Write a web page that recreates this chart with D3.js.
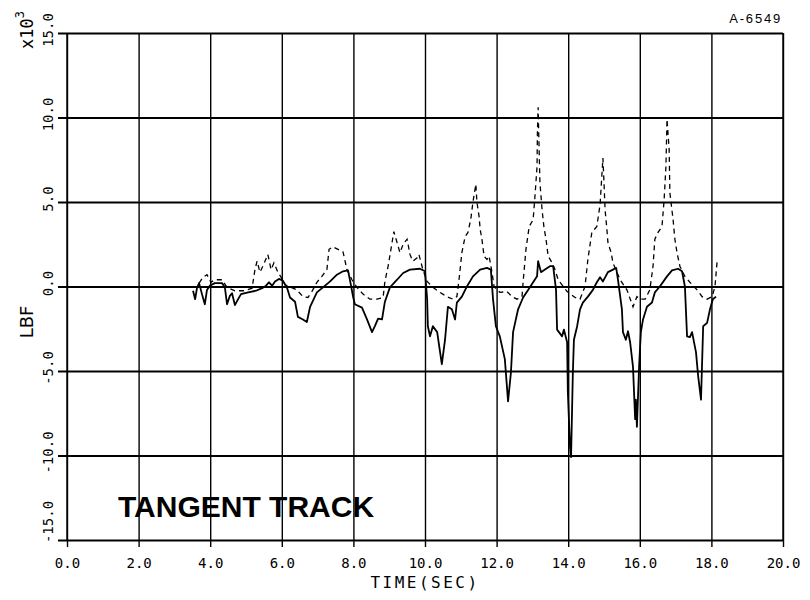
<!DOCTYPE html>
<html><head><meta charset="utf-8">
<script src="https://cdn.jsdelivr.net/npm/d3@7/dist/d3.min.js"></script>
<style>
html,body{margin:0;padding:0;background:#fff;}
svg{display:block;}
</style>
</head><body>
<script>
// ---- data (LBF x 10^3 versus TIME in seconds) ----
const xTickValues = [0, 2, 4, 6, 8, 10, 12, 14, 16, 18, 20];
const xTickLabels = ["0.0","2.0","4.0","6.0","8.0","10.0","12.0","14.0","16.0","18.0","20.0"];
const yTickValues = [-15, -10, -5, 0, 5, 10, 15];
const yTickLabels = ["-15.0","-10.0","-5.0","0.0","5.0","10.0","15.0"];

// solid trace: [time, load]
const solidSeries = [
[3.52,-0.25],[3.58,-0.75],[3.63,-0.1],[3.69,0.2],[3.77,-0.45],[3.85,-1.05],[3.91,-0.2],[3.99,0.05],
[4.13,0.2],[4.33,0.2],[4.41,-0.05],[4.47,-1.05],[4.55,-0.55],[4.61,-0.4],[4.69,-1.1],[4.78,-0.75],
[4.86,-0.45],[5.06,-0.35],[5.28,-0.25],[5.45,-0.1],[5.56,0.05],[5.64,0.25],[5.73,0.05],[5.81,0.3],
[5.92,0.45],[6.03,0.35],[6.15,-0.1],[6.23,-0.65],[6.37,-0.9],[6.45,-1.8],[6.59,-1.95],[6.70,-2.1],
[6.79,-1.2],[6.98,-0.35],[7.15,-0.05],[7.35,0.3],[7.54,0.7],[7.71,0.9],[7.85,0.95],[7.93,0.1],
[7.99,-0.6],[8.04,-1.05],[8.24,-1.25],[8.38,-1.95],[8.52,-2.7],[8.60,-2.35],[8.69,-1.9],[8.80,-1.95],
[8.88,-0.9],[9.02,-0.05],[9.22,0.4],[9.39,0.8],[9.58,1.0],[9.86,1.05],[10.0,0.9],[10.06,-0.75],
[10.08,-2.35],[10.14,-2.95],[10.22,-2.35],[10.34,-2.7],[10.47,-4.6],[10.56,-3.15],[10.64,-1.2],
[10.75,-1.35],[10.84,-1.95],[10.89,-0.95],[11.03,-0.6],[11.17,0],[11.34,0.6],[11.54,1.0],[11.73,1.1],
[11.84,1.0],[11.90,-0.75],[11.98,-2.35],[12.09,-2.95],[12.23,-4.3],[12.32,-6.8],[12.40,-5.1],
[12.46,-2.7],[12.60,-1.35],[12.74,-0.65],[12.88,-0.2],[13.02,0.25],[13.13,0.6],[13.16,1.5],
[13.24,0.85],[13.35,1.0],[13.49,1.2],[13.58,1.2],[13.66,-0.2],[13.69,-2.55],[13.83,-2.95],
[13.88,-2.55],[13.97,-3.3],[13.99,-6.25],[14.05,-9.45],[14.08,-10.1],[14.13,-5.1],[14.16,-3.15],
[14.25,-2.35],[14.33,-1.35],[14.41,-0.95],[14.55,-0.6],[14.69,-0.2],[14.80,0.25],[14.89,0.55],
[14.97,0.3],[15.11,0.85],[15.25,1.0],[15.34,1.1],[15.39,0.4],[15.50,-1.35],[15.53,-2.7],[15.61,-3.15],
[15.67,-2.65],[15.73,-3.3],[15.81,-4.75],[15.87,-7.85],[15.89,-6.7],[15.92,-8.3],[15.98,-4.75],
[16.03,-2.7],[16.09,-1.95],[16.20,-1.2],[16.34,-0.95],[16.42,-0.35],[16.56,0],[16.76,0.6],[16.90,0.95],
[17.07,1.05],[17.18,0.9],[17.26,0],[17.32,-2.95],[17.40,-3.0],[17.46,-2.7],[17.57,-3.9],[17.63,-5.3],
[17.71,-6.7],[17.77,-2.35],[17.88,-2.15],[17.96,-1.35],[18.04,-0.75],[18.13,-0.6]
];

// dashed trace: [time, load]
const dashedSeries = [
[3.69,0.2],[3.80,0.55],[3.91,0.7],[4.02,0.25],[4.13,0.4],[4.33,0.4],[4.47,-0.05],[4.69,-0.25],
[4.97,-0.25],[5.17,-0.1],[5.25,1.0],[5.31,1.5],[5.39,0.85],[5.47,1.2],[5.61,1.9],[5.70,1.0],
[5.78,1.4],[5.89,0.85],[5.98,0.55],[6.09,0.1],[6.42,-0.2],[6.59,-0.6],[6.73,-0.65],[6.84,-0.3],
[6.98,0.25],[7.12,0.6],[7.26,1.0],[7.32,2.2],[7.43,2.35],[7.57,2.2],[7.71,2.05],[7.82,1.0],
[7.96,0.4],[8.10,-0.05],[8.27,-0.45],[8.46,-0.75],[8.66,-0.75],[8.83,-0.65],[8.88,0.3],[8.97,1.2],
[9.08,2.6],[9.13,3.25],[9.22,2.6],[9.30,2.0],[9.39,2.5],[9.50,2.8],[9.58,1.9],[9.66,1.5],[9.78,1.7],
[9.83,1.9],[9.94,1.0],[10.06,0.3],[10.22,-0.05],[10.42,-0.35],[10.61,-0.6],[10.78,-0.75],[10.89,-0.6],
[10.95,0.4],[11.03,2.0],[11.12,2.95],[11.20,3.2],[11.28,4.0],[11.34,5.0],[11.42,6.05],[11.45,5.0],
[11.51,4.15],[11.54,3.4],[11.59,2.8],[11.65,1.8],[11.73,1.6],[11.79,1.8],[11.87,0.85],[11.93,0],
[12.09,-0.35],[12.29,-0.3],[12.43,-0.6],[12.57,-0.75],[12.71,-0.6],[12.74,0.25],[12.82,2.2],
[12.91,3.55],[13.02,3.95],[13.07,5.3],[13.13,7.1],[13.14,9.1],[13.16,10.6],[13.21,6.15],[13.27,4.55],
[13.32,3.55],[13.38,2.8],[13.44,1.8],[13.55,1.4],[13.63,1.0],[13.72,0.4],[13.97,-0.3],[14.19,-0.65],
[14.33,-0.75],[14.47,0],[14.55,1.6],[14.66,3.2],[14.80,3.55],[14.89,4.85],[14.97,7.6],[15.0,6.15],
[15.03,4.55],[15.08,3.4],[15.11,2.6],[15.20,2.0],[15.25,1.4],[15.45,0.4],[15.64,-0.2],[15.81,-1.2],
[15.92,-0.6],[16.01,-0.75],[16.15,-0.75],[16.28,-0.2],[16.37,1.2],[16.42,2.8],[16.51,3.2],[16.62,3.55],
[16.68,5.15],[16.73,7.1],[16.76,9.9],[16.82,8.1],[16.84,5.55],[16.93,3.95],[16.98,2.8],[17.04,2.0],
[17.12,1.2],[17.26,0.6],[17.40,0.25],[17.60,-0.2],[17.74,-0.6],[17.88,-0.75],[18.02,-0.6],[18.10,0],
[18.16,1.5]
];

const titleText = "TANGENT TRACK";
const xAxisTitle = "TIME(SEC)";
const yAxisTitle = "LBF";
const refText = "A-6549";

// ---- drawing ----
const W = 810, H = 600;
const svg = d3.select("body").append("svg").attr("width", W).attr("height", H);
svg.append("rect").attr("width", W).attr("height", H).attr("fill", "#fff");

const x = d3.scaleLinear().domain([0, 20]).range([67, 783]);
const y = d3.scaleLinear().domain([-15, 15]).range([540, 33]);

const mono = "'DejaVu Sans Mono', 'Liberation Mono', monospace";

// vertical grid lines (x ticks), extending a bit below the bottom axis
const xAxis = d3.axisBottom(x).tickValues(xTickValues)
  .tickSize(-(y(-15) - y(15)) - 7).tickPadding(12)
  .tickFormat((d, i) => xTickLabels[i]);
const gx = svg.append("g").attr("transform", `translate(0,${y(-15) + 7})`).call(xAxis);
gx.select(".domain").remove();
gx.selectAll(".tick line").attr("stroke", "#000").attr("stroke-width", 1.4);
gx.selectAll(".tick text").attr("font-family", mono).attr("font-size", 14)
  .attr("fill", "#000").attr("dy", "0").attr("y", 21);

// horizontal grid lines (y ticks), extending left of the left axis
const yAxis = d3.axisLeft(y).tickValues(yTickValues)
  .tickSize(-(x(20) - x(0)) - 9).tickFormat("");
const gy = svg.append("g").attr("transform", `translate(${x(0) - 9},0)`).call(yAxis);
gy.select(".domain").remove();
gy.selectAll(".tick line").attr("stroke", "#000").attr("stroke-width", 2.2);

// y tick labels, rotated
svg.append("g").selectAll("text").data(yTickValues).join("text")
  .attr("transform", d => {
    const cy = Math.min(y(d) - 3, 522);
    return `translate(53,${cy}) rotate(-90)`;
  })
  .attr("text-anchor", "middle")
  .attr("font-family", mono).attr("font-size", 14).attr("fill", "#000")
  .text((d, i) => yTickLabels[i]);

// plot frame left/right
svg.append("line").attr("x1", x(0)).attr("x2", x(0)).attr("y1", y(15)).attr("y2", y(-15))
  .attr("stroke", "#000").attr("stroke-width", 1.4);
svg.append("line").attr("x1", x(20)).attr("x2", x(20)).attr("y1", y(15)).attr("y2", y(-15))
  .attr("stroke", "#000").attr("stroke-width", 1.4);

// lines
const line = d3.line().x(d => x(d[0])).y(d => y(d[1]));
svg.append("path").datum(dashedSeries).attr("d", line)
  .attr("fill", "none").attr("stroke", "#000").attr("stroke-width", 1.3)
  .attr("stroke-dasharray", "5,4");
svg.append("path").datum(solidSeries).attr("d", line)
  .attr("fill", "none").attr("stroke", "#000").attr("stroke-width", 1.8)
  .attr("stroke-linejoin", "round");

// axis titles
svg.append("text").attr("x", 425).attr("y", 588).attr("text-anchor", "middle")
  .attr("font-family", mono).attr("font-size", 16).attr("letter-spacing", 2.5)
  .attr("fill", "#000").text(xAxisTitle);
svg.append("text").attr("transform", "translate(33,322) rotate(-90)").attr("text-anchor", "middle")
  .attr("font-family", "'DejaVu Sans', sans-serif").attr("font-size", 18).attr("fill", "#000")
  .text(yAxisTitle);

// x10^3 multiplier
const mult = svg.append("text").attr("transform", "translate(33,49) rotate(-90)")
  .attr("font-family", mono).attr("font-size", 17).attr("fill", "#000");
mult.append("tspan").text("x10");
mult.append("tspan").attr("dy", -9).attr("font-size", 12).text("3");

// reference number
svg.append("text").attr("x", 782).attr("y", 23).attr("text-anchor", "end")
  .attr("font-family", "'Liberation Sans', Arial, sans-serif").attr("font-size", 13)
  .attr("letter-spacing", 1.8).attr("fill", "#000").text(refText);

// title annotation
svg.append("text").attr("x", 118).attr("y", 517)
  .attr("font-family", "'Liberation Sans', Arial, sans-serif").attr("font-weight", "bold")
  .attr("font-size", 30).attr("fill", "#000").text(titleText);
</script>
</body></html>
